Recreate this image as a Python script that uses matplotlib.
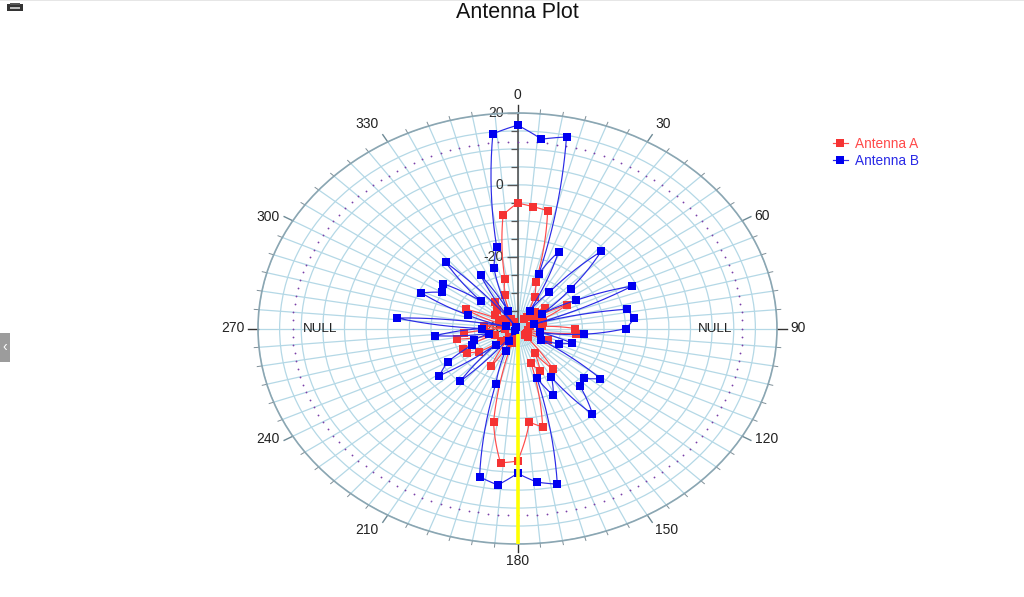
import numpy as np
import matplotlib
matplotlib.use('Agg')
import matplotlib.pyplot as plt
from matplotlib.lines import Line2D
from matplotlib.markers import TICKLEFT
from matplotlib.patches import Rectangle

plt.rcParams['font.family'] = ['Liberation Sans', 'DejaVu Sans']

angles_deg = list(range(0, 360, 6))
antenna_a = [-5.1, -5.9, -6.5, -26.3, -30.3, -37, -36.1, -33.8, -31.3, -35,
             -26.8, -34, -33.8, -37, -34.3, -26.7, -26.4, -37.5, -37.5, -32.3,
             -37.5, -37.5, -36.6, -37.5, -25.9, -32.1, -27, -29.8, -12, -13.8,
             -3.1, -2.4, -13.4, -35.8, -37, -27.8, -36, -37, -35, -29.1,
             -26.4, -26.3, -34.5, -25.7, -27.6, -37, -32.2, -37, -36, -26.9,
             -35, -33.7, -36, -33, -31, -37, -38, -30.3, -26, -8.2]
antenna_b = [16.6, 13, 14.5, -24, -16.6, -34.4, -27.5, -11.1, -23.5, -33.1,
             -24.3, -11, -36, -14.1, -12.9, -14.9, -24.6, -34.7, -26.8, -29.6,
             -33.6, -16.3, -19.2, -18.4, -10.5, -24.3, -19.6, -25.5, 4.3, 3,
             0.3, 3.8, 2.2, -23.8, -33.2, -36.1, -39, -20.2, -33.2, -17.7,
             -21.4, -28.4, -29.4, -33.3, -20.8, -31.8, -12, -37.2, -27.9, -15.7,
             -19.8, -18.8, -28.6, -15.2, -39.5, -22.9, -34.8, -22.4, -16.9, 14.5]
null_angles_deg = np.arange(0, 360, 2.5)
null_level = 12
angle_labels = [0, 30, 60, 90, 120, 150, 180, 210, 240, 270, 300, 330]
label_offsets_px = [(0, 18), (16, 18), (20, 5), (21, 0), (24, -3), (19, -15),
                    (0, -17), (-21, -15), (-25, -3), (-25, 0), (-25, 4), (-21, 18)]
radial_labels = [20, 0, -20, -40]
radial_minor = [15, 10, 5, -5, -10, -15, -25, -30, -35]
series_names = ['Antenna A', 'Antenna B']

W, H = 1024, 597
fig = plt.figure(figsize=(W / 100, H / 100), dpi=100, facecolor='white')
ax = fig.add_axes([258 / W, (H - 544) / H, 519 / W, 431 / H], projection='polar')
ax.set_aspect('auto')
ax.set_theta_zero_location('N')
ax.set_theta_direction(-1)
ax.set_rlim(-40, 20)

GRID = '#b4d8e6'
ax.set_xticks(np.deg2rad(np.arange(0, 360, 5)))
ax.set_xticklabels([])
ax.set_yticks(np.arange(-35, 21, 5))
ax.set_yticklabels([])
ax.grid(True, axis='x', color=GRID, lw=0.9)
ax.grid(True, axis='y', color=GRID, lw=0.9)
ax.tick_params(axis='both', length=0)
ax.spines['polar'].set_color('#8ba6b2')
ax.spines['polar'].set_linewidth(1.2)

# outer angle ticks
for a in np.arange(0, 360, 5):
    major = a % 30 == 0
    cardinal = a % 90 == 0
    ax.plot(np.deg2rad([a, a]), [20, 22.3 if major else 21.1],
            color='#333333' if cardinal else ('#6e8a96' if major else '#7f8f98'),
            lw=1.0 if major else 0.7, clip_on=False, zorder=2)

# radial axis line and its ticks
ax.plot([0, 0], [-40, 20], color='#555555', lw=1.2, zorder=2.1)
ax.plot(np.zeros(len(radial_labels)), radial_labels, ls='none', marker=TICKLEFT, ms=8,
        mew=1.0, color='#555555', zorder=2.1, clip_on=False)
ax.plot(np.zeros(len(radial_minor)), radial_minor, ls='none', marker=TICKLEFT, ms=5,
        mew=0.9, color='#555555', zorder=2.1, clip_on=False)
for v in radial_labels:
    ax.annotate(str(v), (0, v), xytext=(-10, 0), textcoords='offset points', ha='right',
                va='center', fontsize=10, color='#333333', zorder=2.2)

# threshold circle
ax.plot(np.deg2rad(null_angles_deg), np.full(len(null_angles_deg), null_level), ls='none',
        marker='o', ms=1.3, mew=0, color='#7b3fa8', zorder=2.3)

th = np.deg2rad(angles_deg)
A_LINE, B_LINE = '#ff4a4a', '#2a2ae6'
A_MARK, B_MARK = '#f53333', '#0000f0'
for vals, lc, mc, z in [(antenna_a, A_LINE, A_MARK, 3), (antenna_b, B_LINE, B_MARK, 4)]:
    ln, = ax.plot(np.r_[th, 2 * np.pi], np.r_[vals, vals[0]], color=lc, lw=0.85, zorder=z)
    # join the samples along the polar scale, as the original does
    ln.get_path()._interpolation_steps = 40
    ax.plot(th, vals, ls='none', marker='s', ms=5.5, mew=0, mfc=mc, zorder=z + 0.1)

# bearing marker
ax.plot([np.pi, np.pi], [-38.5, 20], color='#ffff00', lw=2.6, zorder=5, solid_capstyle='butt')

for a, (dx, dy) in zip(angle_labels, label_offsets_px):
    ax.annotate(str(a), (np.deg2rad(a), 20), xytext=(dx * 0.72, dy * 0.72),
                textcoords='offset points', ha='center', va='center', fontsize=10,
                color='#222222', annotation_clip=False)
for a in (90, 270):
    ax.text(np.deg2rad(a), 5.7, 'NULL', ha='center', va='center', fontsize=9.7,
            color='#222222', zorder=2.4)

handles = [Line2D([], [], color=A_LINE, lw=0.85, marker='s', ms=5.5, mew=0, mfc=A_MARK),
           Line2D([], [], color=B_LINE, lw=0.85, marker='s', ms=5.5, mew=0, mfc=B_MARK)]
leg = fig.legend(handles, series_names, loc='upper left', bbox_to_anchor=(833 / W, 1 - 137 / H),
                 frameon=False, labelcolor='linecolor', fontsize=9.8, handlelength=1.1,
                 handletextpad=0.5, labelspacing=0.2, borderpad=0, borderaxespad=0)

fig.text(517 / W, 1 - 13 / H, 'Antenna Plot', ha='center', va='center', fontsize=15.5, color='#111111')

# page furniture
def box(x, y, w, h, c):
    fig.add_artist(Rectangle((x / W, 1 - (y + h) / H), w / W, h / H, transform=fig.transFigure,
                             fc=c, ec='none'))
box(0, 0, W, 1, '#e6e6e6')
box(0, 333, 10, 29, '#9c9c9c')
fig.text(4.5 / W, 1 - 347 / H, '‹', color='white', fontsize=10, ha='center', va='center')
box(7, 4, 16, 7, '#333333')
box(10, 3, 10, 2, '#555555')
box(10, 7, 10, 2, '#bbbbbb')

fig.savefig('out.png', dpi=100, facecolor='white')
